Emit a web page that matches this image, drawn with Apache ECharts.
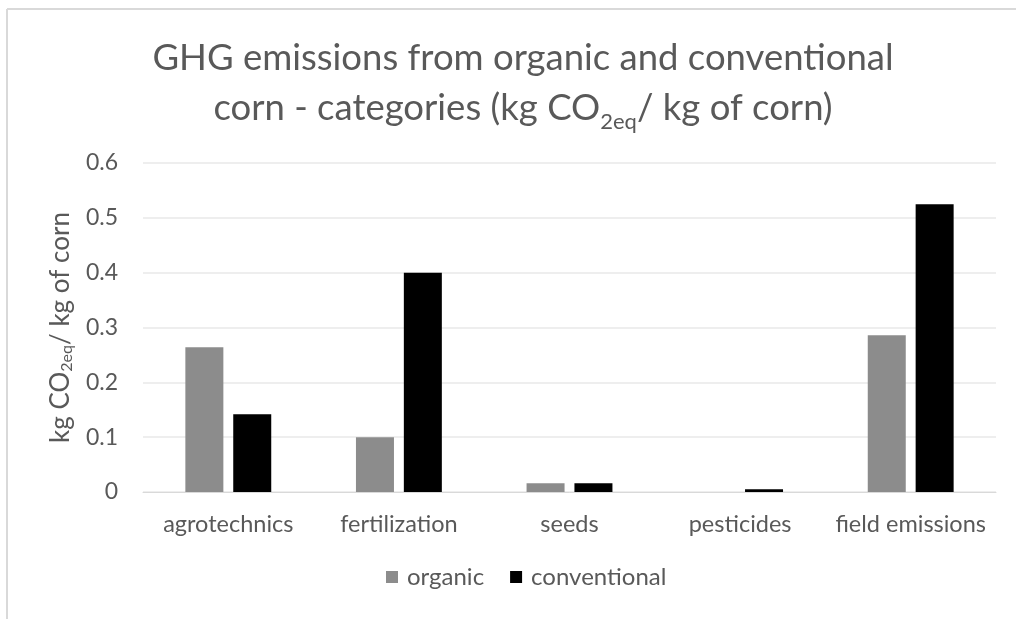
<!DOCTYPE html>
<html><head><meta charset="utf-8">
<script src="https://cdn.jsdelivr.net/npm/echarts@6/dist/echarts.min.js"></script>
<style>html,body{margin:0;padding:0;background:#fff}#c{width:1016px;height:619px}</style>
</head><body><div id="c"></div>
<script>
const categories = ['agrotechnics', 'fertilization', 'seeds', 'pesticides', 'field emissions'];
const organic = [0.264, 0.100, 0.016, 0.0, 0.286];
const conventional = [0.142, 0.400, 0.016, 0.005, 0.525];
const yTicks = [0, 0.1, 0.2, 0.3, 0.4, 0.5, 0.6];

const FONT = 'Lato';
const TXT = '#595959';
const chart = echarts.init(document.getElementById('c'));
chart.setOption({
  backgroundColor: '#fff',
  animation: false,
  textStyle: { fontFamily: FONT },
  title: {
    text: 'GHG emissions from organic and conventional\ncorn - categories (kg CO{sub|2eq}/ kg of corn)',
    left: 518, textAlign: 'center', top: 28,
    textStyle: {
      fontFamily: FONT, fontSize: 36.5, fontWeight: 'normal', color: TXT, lineHeight: 50,
      rich: { sub: { fontFamily: FONT, fontSize: 22, color: TXT, verticalAlign: 'bottom', padding: [18, 0, 0, 0], lineHeight: 50 } }
    }
  },
  legend: {
    bottom: 25, left: 381, itemWidth: 12, itemHeight: 12, itemGap: 26,
    icon: 'rect',
    textStyle: { fontFamily: FONT, fontSize: 24, color: TXT, padding: [0, 0, 0, 4] },
    data: ['organic', 'conventional']
  },
  grid: { left: 143, right: 20, top: 163, bottom: 127 },
  xAxis: {
    type: 'category', data: categories,
    axisLine: { lineStyle: { color: '#d9d9d9' } },
    axisTick: { show: false },
    axisLabel: { fontFamily: FONT, fontSize: 23.5, color: TXT, margin: 20, interval: 0 }
  },
  yAxis: {
    type: 'value', min: 0, max: 0.6, interval: 0.1,
    name: 'kg CO{sub|2eq}/ kg of corn',
    nameLocation: 'middle', nameGap: 68, nameRotate: 90,
    nameTextStyle: {
      fontFamily: FONT, fontSize: 26, color: TXT,
      rich: { sub: { fontFamily: FONT, fontSize: 16, color: TXT, verticalAlign: 'bottom', padding: [12, 0, 0, 0] } }
    },
    axisLine: { show: false }, axisTick: { show: false },
    axisLabel: { fontFamily: FONT, fontSize: 23, color: TXT, margin: 25, align: 'right',
      formatter: v => { const t = yTicks.find(x => Math.abs(x - v) < 1e-9); return t === 0 ? '0' : String(t); } },
    splitLine: { lineStyle: { color: '#e8e8e8', width: 1.5 } }
  },
  series: [
    { name: 'organic', type: 'bar', data: organic, barWidth: 38, barGap: '26%', itemStyle: { color: '#8c8c8c' } },
    { name: 'conventional', type: 'bar', data: conventional, barWidth: 38, itemStyle: { color: '#000000' } }
  ],
  graphic: [
    { type: 'line', shape: { x1: 7, y1: 9, x2: 1016, y2: 9 }, style: { stroke: '#d9d9d9', lineWidth: 2 } },
    { type: 'line', shape: { x1: 7, y1: 9, x2: 7, y2: 619 }, style: { stroke: '#d9d9d9', lineWidth: 2 } }
  ]
});
</script></body></html>
